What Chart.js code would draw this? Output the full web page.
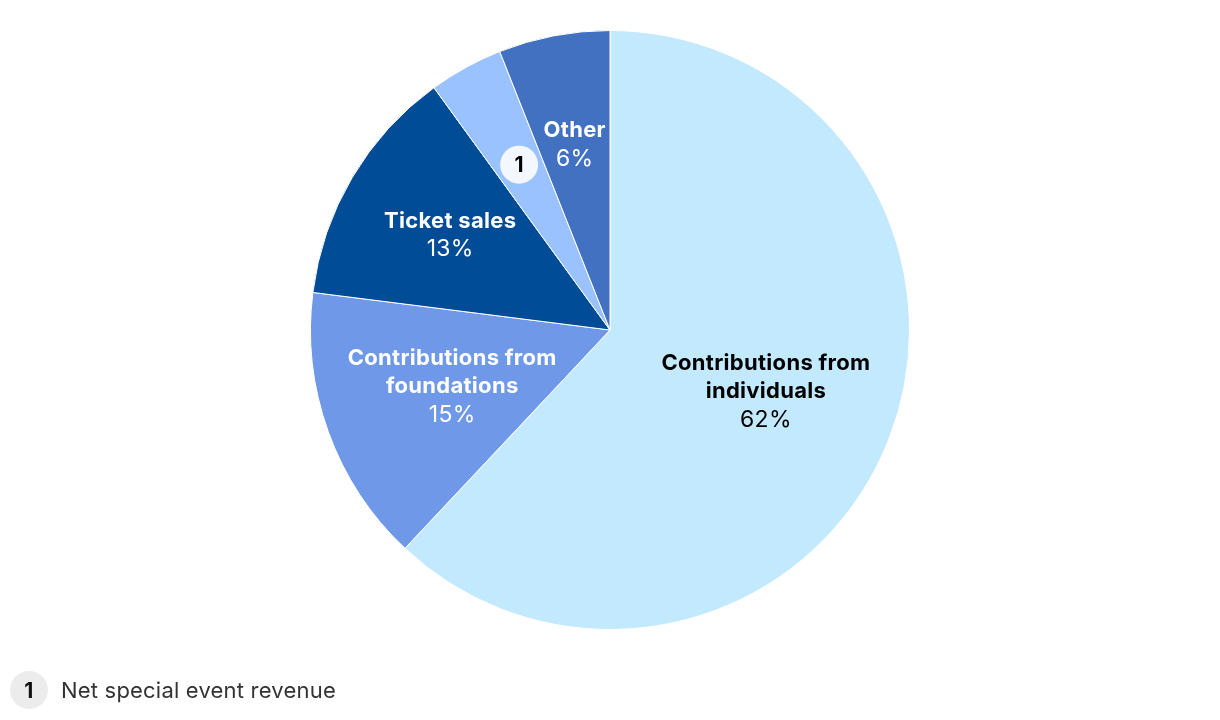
<!DOCTYPE html>
<html>
<head>
<meta charset="utf-8">
<script src="https://cdn.jsdelivr.net/npm/chart.js@4"></script>
<style>
  body { margin: 0; background: #fff; }
  #wrap { position: relative; width: 1220px; height: 720px; }
  #note { position: absolute; left: 10px; top: 671px; display: flex; align-items: center;
          font-family: Inter, sans-serif; font-size: 22px; letter-spacing: 0.2px; color: #333; }
  #note .b { width: 38px; height: 38px; border-radius: 50%; background: #ececec; color: #111;
             font-weight: 700; font-size: 21px; display: flex; align-items: center; justify-content: center; margin-right: 13px; }
</style>
</head>
<body>
<div id="wrap">
  <canvas id="pie" width="1220" height="720"></canvas>
  <div id="note"><span class="b">1</span><span>Net special event revenue</span></div>
</div>
<script>
// chart data
const labels = ['Contributions from individuals', 'Contributions from foundations', 'Ticket sales', 'Net special event revenue', 'Other'];
const values = [62, 15, 13, 4, 6];
const labelLines = [['Contributions from', 'individuals'], ['Contributions from', 'foundations'], ['Ticket sales'], null, ['Other']];
const colors = ['#c3e9fe', '#6f98e8', '#004c97', '#9ac2ff', '#4271c2'];

const textColors = ['#000', '#fff', '#fff', '#000', '#fff'];
const labelRadius = [0.56, 0.56, 0.62, 0.63, 0.63];

const labelPlugin = {
    id: 'sliceLabels',
    afterDatasetsDraw(chart) {
        const ctx = chart.ctx;
        const arcs = chart.getDatasetMeta(0).data;
        ctx.save();
        ctx.textAlign = 'center';
        ctx.textBaseline = 'middle';
        arcs.forEach((arc, i) => {
            const mid = (arc.startAngle + arc.endAngle) / 2;
            const r = arc.outerRadius * labelRadius[i];
            const x = arc.x + Math.cos(mid) * r;
            const y = arc.y + Math.sin(mid) * r;
            if (!labelLines[i]) {
                // footnote badge
                ctx.beginPath();
                ctx.arc(x, y, 19, 0, Math.PI * 2);
                ctx.fillStyle = '#f3f7ff';
                ctx.fill();
                ctx.fillStyle = '#000';
                ctx.font = '700 21px Inter';
                ctx.fillText('1', x, y + 1);
                return;
            }
            const lines = labelLines[i].concat([values[i] + '%']);
            const lh = 28;
            let yy = y - (lines.length - 1) * lh / 2;
            ctx.fillStyle = textColors[i];
            ctx.letterSpacing = '0.3px';
            lines.forEach((t, k) => {
                ctx.font = (k === lines.length - 1 ? '400 23px Inter' : '700 22px Inter');
                ctx.fillText(t, x, yy);
                yy += lh;
            });
        });
        ctx.restore();
    }
};

new Chart(document.getElementById('pie').getContext('2d'), {
    type: 'pie',
    data: {
        labels: labels,
        datasets: [{
            data: values,
            backgroundColor: colors,
            borderColor: '#fff',
            borderWidth: 1
        }]
    },
    options: {
        responsive: false,
        animation: false,
        layout: { padding: { top: 30, bottom: 90, left: 0, right: 0 } },
        plugins: {
            legend: { display: false },
            tooltip: { enabled: false }
        }
    },
    plugins: [labelPlugin]
});
</script>
</body>
</html>
